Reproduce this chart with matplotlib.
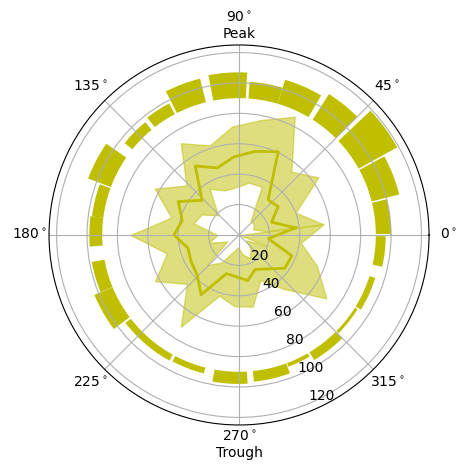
import numpy as np
import matplotlib
matplotlib.use("Agg")
import matplotlib.pyplot as plt

# phase bins (25 bins over one cycle)
n_bins = 25
bin_deg = 360.0 / n_bins
phase_deg = np.arange(n_bins) * bin_deg + bin_deg / 2

# firing rate per phase bin: mean and band limits
rate_mean = [37.5, 23, 31.8, 30, 60.5, 56, 51.5, 46.4, 53.8, 33.3, 45.6, 38.6, 42.8,
             34.7, 36, 38, 46.5, 26.7, 27.6, 30.5, 25, 29, 37.2, 37.4, 19.5]
rate_upper = [56, 40, 64.5, 54, 86, 77, 71.5, 62, 71.5, 47.5, 63.3, 46, 71.3,
              49, 63, 47, 71.5, 42, 47, 48, 33, 46, 71, 55, 41]
rate_lower = [19, 10, 12, 12, 35, 35, 31.5, 30.8, 36, 19, 28, 31, 14.3,
              20.4, 9, 29, 21.5, 11.4, 8.2, 13, 17, 12, 6, 19.8, 0.5]

# outer phase histogram (degrees), drawn as a ring starting at r=90
hist_center = [7, 21.3, 36.2, 51.2, 66.5, 79.8, 94, 110.5, 123, 135.5, 152.5, 166.4, 178.6,
               196.4, 209.7, 224, 235.5, 249, 266.5, 283, 295.3, 308, 321.7, 335.5, 353.5]
hist_width = [13.2, 14.2, 14.4, 12.5, 14, 12.5, 13.7, 13, 10, 11.5, 14, 12.8, 11.7,
              12, 14.4, 12.5, 11, 13.5, 13.6, 14.4, 9.5, 14, 12.5, 14, 12]
hist_height = [10, 18.7, 29, 20, 16.5, 11, 17, 16, 8, 6.5, 16, 7.5, 8.5,
               8.5, 13, 4.5, 4.5, 4, 8, 7, 2.5, 6, 2, 4, 6.5]
hist_bottom = 90

tick_labels = ['0$^\\circ$', '45$^\\circ$', '90$^\\circ$\nPeak', '135$^\\circ$',
               '180$^\\circ$', '225$^\\circ$', '270$^\\circ$\nTrough', '315$^\\circ$']

fig = plt.figure(figsize=(4.66, 4.71), dpi=100)
ax = fig.add_axes([0.1052, 0.0977, 0.8155, 0.8068], projection='polar')

theta = np.deg2rad(np.append(phase_deg, phase_deg[0]))
upper = np.append(rate_upper, rate_upper[0])
lower = np.append(rate_lower, rate_lower[0])
mean = np.append(rate_mean, rate_mean[0])

ax.fill_between(theta, lower, upper, color='y', alpha=0.5)
ax.plot(theta, mean, color='y', lw=2)

ax.bar(np.deg2rad(hist_center), hist_height, width=np.deg2rad(hist_width),
       bottom=hist_bottom, color='y')

ax.set_xticks(np.deg2rad(np.arange(0, 360, 45)))
ax.set_xticklabels(tick_labels)
ax.set_rticks([20, 40, 60, 80, 100, 120])
ax.set_rlabel_position(292.5)
ax.set_rlim(0, 125)

fig.savefig("out.png", dpi=100)
